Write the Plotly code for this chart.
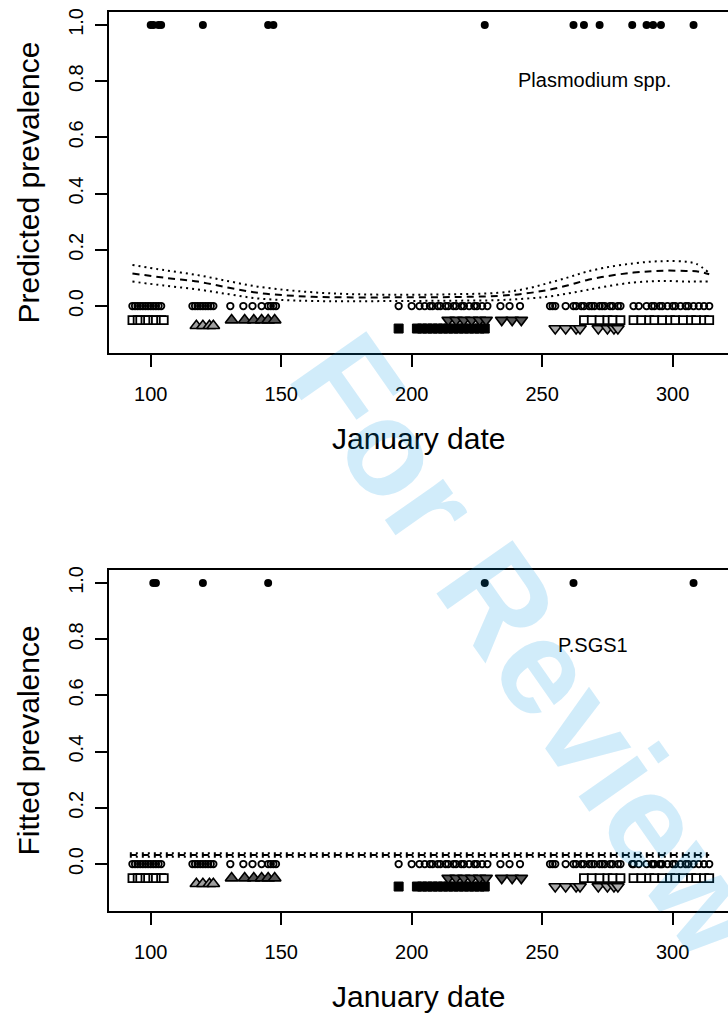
import plotly.graph_objects as go

# ---------------- data ----------------
tick_days = [100, 150, 200, 250, 300]
y_ticks = [0.0, 0.2, 0.4, 0.6, 0.8, 1.0]

# infected birds (prevalence = 1)
inf_days_top = [100, 101, 103, 104, 120, 145, 147, 228, 262, 266, 272,
                284.5, 290, 292.5, 295.5, 308]
inf_days_bot = [101, 102, 120, 145, 228, 262, 308]

# uninfected birds (prevalence = 0)
uninf_days_top = [93, 94, 95, 96, 97, 98, 99, 100, 101, 102, 103, 104,
                  116, 117, 118, 119, 120, 121, 122, 123, 124,
                  130.5, 135.5, 139, 142.5, 145, 146, 147, 148,
                  195, 200, 203, 205, 207, 208, 210, 211, 213, 214, 216, 217,
                  219, 220, 222, 224, 225, 227, 229,
                  234, 237.5, 241.5,
                  253, 254, 255, 259, 262, 263, 265, 266, 268, 269, 270, 272,
                  273, 274, 276, 277, 279, 280,
                  285, 287, 290, 292, 293, 295, 296, 298, 300, 301, 303, 305,
                  306, 308, 310, 312, 314]
uninf_days_bot = uninf_days_top + [284.5, 292.5, 295.5]

# site / year groups (plotted below zero)
grpA_days = [93, 95, 96, 98, 99, 101, 102, 104, 105,
             266, 269, 272, 275, 277, 280, 285, 288, 291, 293, 296, 299,
             301, 304, 307, 309, 312, 314]
grpA_y = -0.05
grpB_days = [117.5, 120, 122.5, 124]
grpB_y = -0.07
grpC_days = [131, 136, 139.5, 142.5, 145, 147.5]
grpC_y = -0.05
grpD_days = [195, 202, 204, 206, 208, 210, 212, 214, 216, 218, 220, 222,
             224, 226, 228]
grpD_y = -0.08
grpE_days = [214, 217, 220, 223, 226, 228.5, 234.5, 238.5, 242]
grpE_y = -0.05
grpF_days = [255, 259, 263, 264.5, 271.5, 275, 277.5, 279]
grpF_y = -0.08

# fitted curve + confidence limits, top panel (Plasmodium spp.)
fit_days = [93, 105, 118, 130, 141, 152, 162, 175, 195, 215, 233, 243, 252,
            260, 267, 276, 285, 292, 298, 305, 309, 314]
fit_mid = [0.116, 0.101, 0.087, 0.065, 0.047, 0.038, 0.033, 0.031, 0.031,
           0.032, 0.036, 0.044, 0.057, 0.074, 0.092, 0.108, 0.119, 0.124,
           0.126, 0.125, 0.124, 0.113]
fit_up = [0.146, 0.128, 0.110, 0.088, 0.069, 0.057, 0.049, 0.043, 0.040,
          0.042, 0.047, 0.060, 0.081, 0.102, 0.122, 0.140, 0.152, 0.158,
          0.160, 0.158, 0.150, 0.118]
fit_lo = [0.087, 0.073, 0.059, 0.042, 0.027, 0.021, 0.018, 0.017, 0.018,
          0.019, 0.021, 0.026, 0.033, 0.045, 0.057, 0.072, 0.084, 0.088,
          0.089, 0.087, 0.087, 0.087]

# fitted curve + limits, bottom panel (P.SGS1) - flat
fit2_days = [92, 314]
fit2_mid = [0.032, 0.032]
fit2_up = [0.038, 0.038]
fit2_lo = [0.026, 0.026]

# ---------------- figure ----------------
FONT = "Liberation Sans, Arial, Helvetica, sans-serif"
W, H = 728, 1018

fig = go.Figure()


def add_panel(xa, ya, inf_days, uninf_days, fdays, fmid, fup, flo):
    kw = dict(xaxis=xa, yaxis=ya, showlegend=False, hoverinfo="skip")
    # fit lines
    fig.add_trace(go.Scatter(x=fdays, y=fup, mode="lines", line_shape="spline",
                             line=dict(color="black", width=2, dash="2px,4px"), **kw))
    fig.add_trace(go.Scatter(x=fdays, y=flo, mode="lines", line_shape="spline",
                             line=dict(color="black", width=2, dash="2px,4px"), **kw))
    fig.add_trace(go.Scatter(x=fdays, y=fmid, mode="lines", line_shape="spline",
                             line=dict(color="black", width=2, dash="7px,5px"), **kw))
    # groups
    fig.add_trace(go.Scatter(x=grpA_days, y=[grpA_y] * len(grpA_days), mode="markers",
                             marker=dict(symbol="square", size=8, color="white",
                                         line=dict(color="black", width=1.8)), **kw))
    fig.add_trace(go.Scatter(x=grpB_days, y=[grpB_y] * len(grpB_days), mode="markers",
                             marker=dict(symbol="triangle-up", size=11, color="#a0a0a0",
                                         line=dict(color="black", width=1.6)), **kw))
    fig.add_trace(go.Scatter(x=grpC_days, y=[grpC_y] * len(grpC_days), mode="markers",
                             marker=dict(symbol="triangle-up", size=11, color="#555555",
                                         line=dict(color="black", width=1.6)), **kw))
    fig.add_trace(go.Scatter(x=grpD_days, y=[grpD_y] * len(grpD_days), mode="markers",
                             marker=dict(symbol="square", size=9, color="black",
                                         line=dict(color="black", width=1)), **kw))
    fig.add_trace(go.Scatter(x=grpE_days, y=[grpE_y] * len(grpE_days), mode="markers",
                             marker=dict(symbol="triangle-down", size=11, color="#555555",
                                         line=dict(color="black", width=1.6)), **kw))
    fig.add_trace(go.Scatter(x=grpF_days, y=[grpF_y] * len(grpF_days), mode="markers",
                             marker=dict(symbol="triangle-down", size=11, color="#aaaaaa",
                                         line=dict(color="black", width=1.6)), **kw))
    # uninfected
    fig.add_trace(go.Scatter(x=uninf_days, y=[0] * len(uninf_days), mode="markers",
                             marker=dict(symbol="circle-open", size=6.5, color="black",
                                         line=dict(color="black", width=1.8)), **kw))
    # infected
    fig.add_trace(go.Scatter(x=inf_days, y=[1] * len(inf_days), mode="markers",
                             marker=dict(symbol="circle", size=8, color="black"), **kw))


add_panel("x", "y", inf_days_top, uninf_days_top, fit_days, fit_mid, fit_up, fit_lo)
add_panel("x2", "y2", inf_days_bot, uninf_days_bot, fit2_days, fit2_mid, fit2_up, fit2_lo)

x_range = [84.02, 321.2]
y_range = [-0.167, 1.046]
x_dom = [109 / W, 1.0]
top_dom = [1 - 353 / H, 1 - 12 / H]
bot_dom = [1 - 911 / H, 1 - 570 / H]

xaxis_style = dict(range=x_range, domain=x_dom, showline=True, mirror=True,
                   linecolor="black", linewidth=2, ticks="outside", ticklen=12,
                   tickwidth=2, tickcolor="black", tickvals=tick_days,
                   tickfont=dict(family=FONT, size=20, color="black"),
                   showgrid=False, zeroline=False, automargin=False,
                   ticklabelstandoff=10, fixedrange=True)
yaxis_style = dict(range=y_range, showline=True, mirror=False,
                   linecolor="black", linewidth=2, ticks="outside", ticklen=12,
                   tickwidth=2, tickcolor="black", tickvals=y_ticks,
                   tickformat=".1f", tickangle=-90,
                   tickfont=dict(family=FONT, size=20, color="black"),
                   showgrid=False, zeroline=False, automargin=False,
                   ticklabelstandoff=4, fixedrange=True)

fig.update_layout(
    width=W, height=H,
    margin=dict(l=0, r=0, t=0, b=0),
    paper_bgcolor="white", plot_bgcolor="white",
    xaxis=dict(**xaxis_style, anchor="y"),
    yaxis=dict(**yaxis_style, domain=top_dom, anchor="x"),
    xaxis2=dict(**xaxis_style, anchor="y2"),
    yaxis2=dict(**yaxis_style, domain=bot_dom, anchor="x2"),
)

ann = []
# panel labels
ann.append(dict(x=270, y=0.804, xref="x", yref="y", text="Plasmodium spp.",
                showarrow=False, font=dict(family=FONT, size=20, color="black")))
ann.append(dict(x=269.5, y=0.78, xref="x2", yref="y2", text="P.SGS1",
                showarrow=False, font=dict(family=FONT, size=20, color="black")))
# axis titles
for yc, ytxt, xt in [(182.5, "Predicted prevalence", 438), (740.5, "Fitted prevalence", 996)]:
    ann.append(dict(x=28 / W, y=1 - yc / H, xref="paper", yref="paper", text=ytxt,
                    textangle=-90, showarrow=False, xanchor="center", yanchor="middle",
                    font=dict(family=FONT, size=30, color="black")))
    ann.append(dict(x=419 / W, y=1 - xt / H, xref="paper", yref="paper",
                    text="January date", showarrow=False, xanchor="center",
                    yanchor="middle", font=dict(family=FONT, size=30, color="black")))
# watermark
ann.append(dict(x=530 / W, y=1 - 645 / H, xref="paper", yref="paper",
                text="<b>For Review</b>",
                textangle=55, showarrow=False, xanchor="center", yanchor="middle",
                font=dict(family=FONT, size=135, color="rgba(0,150,230,0.18)")))
fig.update_layout(annotations=ann)

fig.write_html("out.html")
